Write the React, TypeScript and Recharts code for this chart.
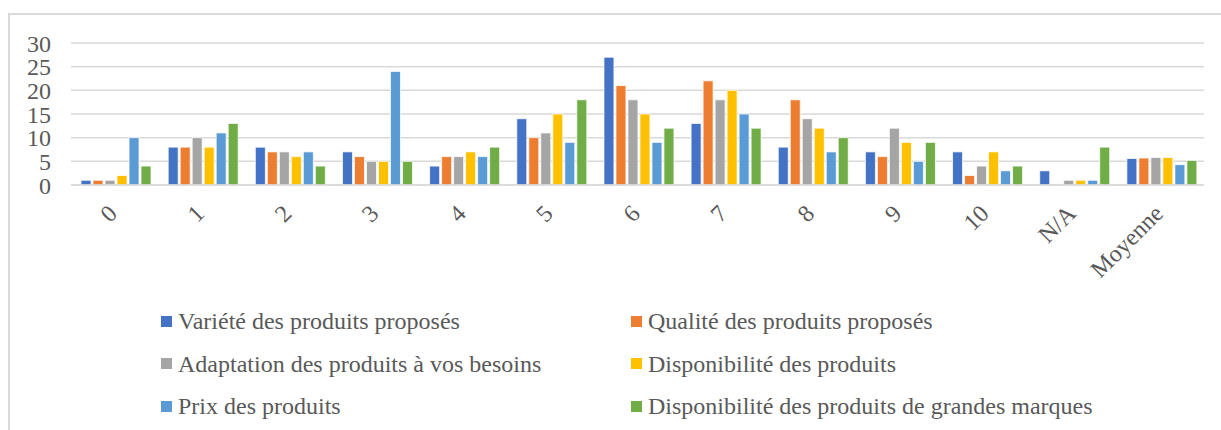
import { BarChart, Bar, XAxis, YAxis, CartesianGrid } from 'recharts';

// Score categories (0-10, no answer, average)
const categories = ['0', '1', '2', '3', '4', '5', '6', '7', '8', '9', '10', 'N/A', 'Moyenne'];

const variete = [1, 8, 8, 7, 4, 14, 27, 13, 8, 7, 7, 3, 5.6];
const qualite = [1, 8, 7, 6, 6, 10, 21, 22, 18, 6, 2, 0, 5.7];
const adaptation = [1, 10, 7, 5, 6, 11, 18, 18, 14, 12, 4, 1, 5.8];
const disponibilite = [2, 8, 6, 5, 7, 15, 15, 20, 12, 9, 7, 1, 5.8];
const prix = [10, 11, 7, 24, 6, 9, 9, 15, 7, 5, 3, 1, 4.3];
const grandesMarques = [4, 13, 4, 5, 8, 18, 12, 12, 10, 9, 4, 8, 5.2];

const yTicks = [0, 5, 10, 15, 20, 25, 30];

const series = [
  { key: 'variete', name: 'Variété des produits proposés', color: '#4472C4', values: variete },
  { key: 'qualite', name: 'Qualité des produits proposés', color: '#ED7D31', values: qualite },
  { key: 'adaptation', name: 'Adaptation des produits à vos besoins', color: '#A5A5A5', values: adaptation },
  { key: 'disponibilite', name: 'Disponibilité des produits', color: '#FFC000', values: disponibilite },
  { key: 'prix', name: 'Prix des produits', color: '#5B9BD5', values: prix },
  { key: 'grandesMarques', name: 'Disponibilité des produits de grandes marques', color: '#70AD47', values: grandesMarques },
];

const data = categories.map((category, i) => {
  const row: Record<string, string | number> = { category };
  series.forEach((s) => {
    row[s.key] = s.values[i];
  });
  return row;
});

const FONT = '"Liberation Serif", "Times New Roman", serif';
const TEXT = '#595959';

function AngledTick(props: any) {
  const { x, y, payload } = props;
  const tx = x + 4;
  const ty = y + 22;
  return (
    <text
      x={tx}
      y={ty}
      transform={`rotate(-45, ${tx}, ${ty})`}
      textAnchor="end"
      fill={TEXT}
      fontSize={24}
      fontFamily={FONT}
    >
      {payload.value}
    </text>
  );
}

export default function App() {
  return (
    <div style={{ position: 'absolute', left: 0, top: 0, width: 1221, height: 430, background: '#fff', overflow: 'hidden', fontFamily: FONT }}>
      {/* chart frame */}
      <div
        style={{
          position: 'absolute',
          left: 8,
          top: 13,
          width: 1230,
          height: 440,
          border: '2px solid #d9d9d9',
          boxSizing: 'border-box',
        }}
      />
      <div style={{ position: 'absolute', left: 0, top: 0 }}>
        <BarChart
          width={1221}
          height={430}
          data={data}
          margin={{ top: 43, right: 17, left: 0, bottom: 0 }}
          barCategoryGap="11.5%"
          barGap={2}
        >
          <CartesianGrid vertical={false} stroke="#d9d9d9" strokeWidth={1.5} />
          <XAxis
            dataKey="category"
            height={245}
            interval={0}
            tickLine={false}
            axisLine={{ stroke: '#d9d9d9', strokeWidth: 1.5 }}
            tick={<AngledTick />}
          />
          <YAxis
            width={71}
            domain={[0, 30]}
            ticks={yTicks}
            interval={0}
            tickLine={false}
            axisLine={false}
            tickMargin={14}
            tick={{ fill: TEXT, fontSize: 24, fontFamily: FONT }}
          />
          {series.map((s) => (
            <Bar
              key={s.key}
              dataKey={s.key}
              name={s.name}
              fill={s.color}
              stroke="#ffffff"
              strokeWidth={0.75}
              isAnimationActive={false}
            />
          ))}
        </BarChart>
      </div>
      {/* legend, two columns */}
      {series.map((s, i) => {
        const col = i % 2;
        const row = Math.floor(i / 2);
        return (
          <div
            key={s.key}
            style={{
              position: 'absolute',
              left: col === 0 ? 161 : 631,
              top: 307 + row * 42.5,
              height: 28,
              display: 'flex',
              alignItems: 'center',
              whiteSpace: 'nowrap',
            }}
          >
            <span style={{ display: 'inline-block', width: 11, height: 11, background: s.color, marginRight: 6 }} />
            <span style={{ fontSize: 24, color: TEXT, lineHeight: '28px' }}>{s.name}</span>
          </div>
        );
      })}
    </div>
  );
}
